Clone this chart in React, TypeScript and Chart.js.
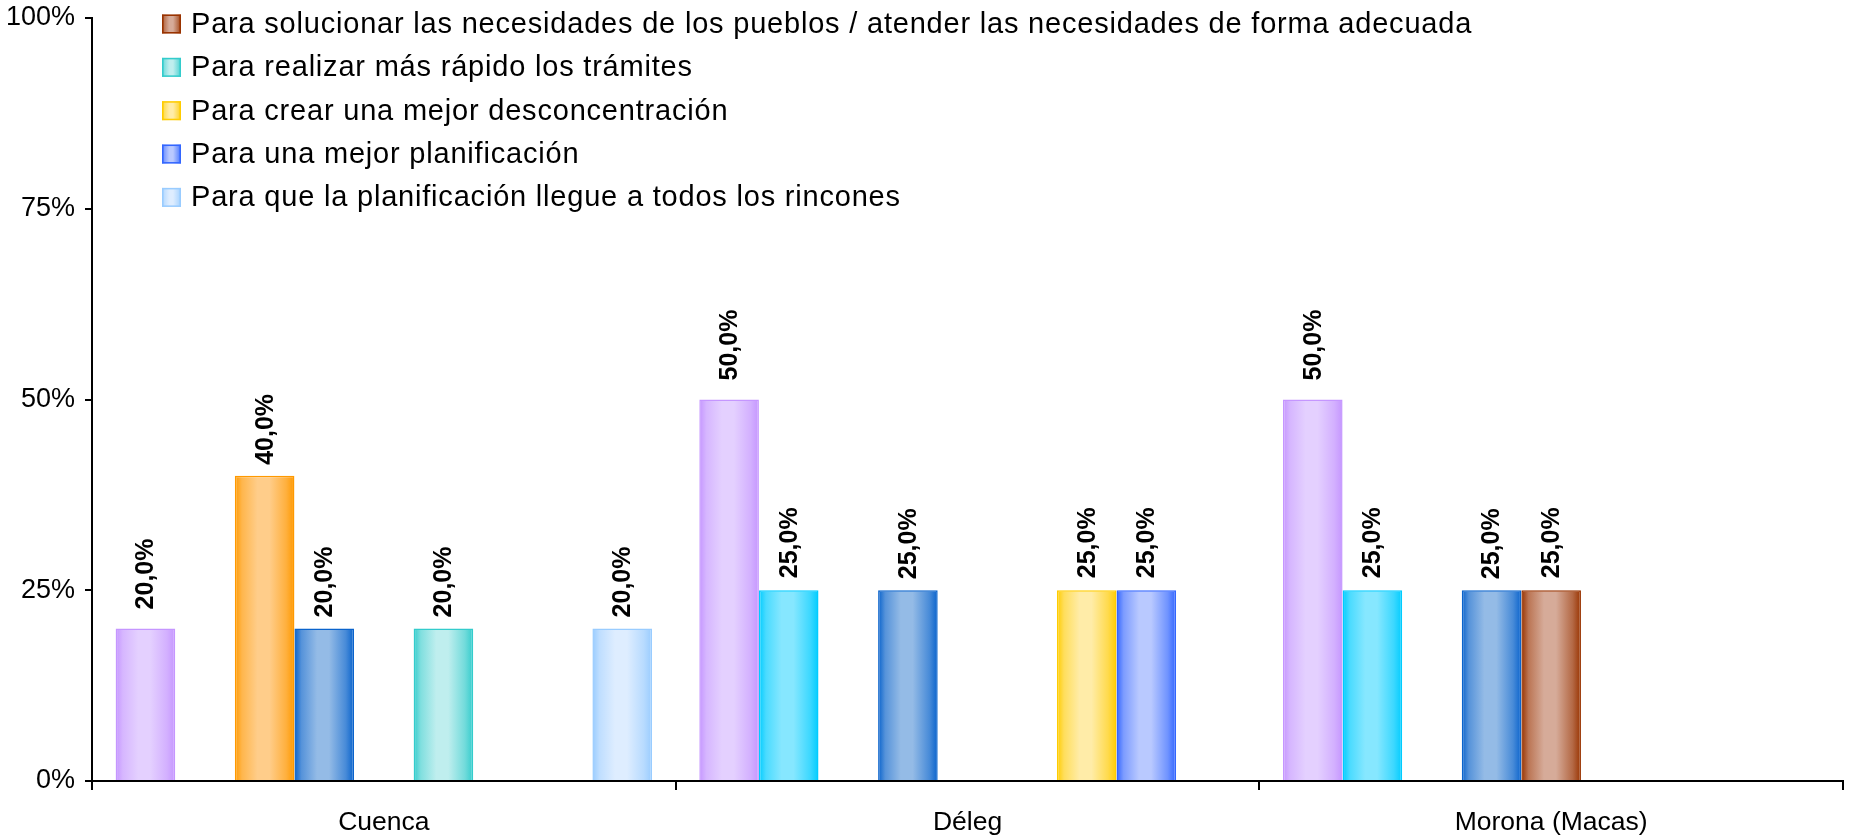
import React, { useEffect, useRef } from 'react';
import { Chart, registerables } from 'chart.js';

Chart.register(...registerables);

// ---------- data ----------
const categories = ['Cuenca', 'Déleg', 'Morona (Macas)'];

const seriesNames = [
  'Opción 1',
  'Opción 2',
  'Opción 3',
  'Opción 4',
  'Para solucionar las necesidades de los pueblos / atender las necesidades de forma adecuada',
  'Para realizar más rápido los trámites',
  'Para crear una mejor desconcentración',
  'Para una mejor planificación',
  'Para que la planificación llegue a todos los rincones',
];

const purpleValues = [20, 50, 50];
const cyanValues = [null, 25, 25];
const orangeValues = [40, null, null];
const steelBlueValues = [20, 25, 25];
const brownValues = [null, null, 25];
const tealValues = [20, null, null];
const yellowValues = [null, 25, null];
const blueValues = [null, 25, null];
const lightBlueValues = [20, null, null];

const seriesValues = [
  purpleValues,
  cyanValues,
  orangeValues,
  steelBlueValues,
  brownValues,
  tealValues,
  yellowValues,
  blueValues,
  lightBlueValues,
];

const yTicks = [0, 25, 50, 75, 100];
const legendSeries = [4, 5, 6, 7, 8];

// ---------- styles ----------
const FONT = '"Liberation Sans", Arial, Helvetica, sans-serif';
const palette: [string, string][] = [
  ['#c596ff', '#e4d0ff'],
  ['#00ccff', '#86e7ff'],
  ['#ff9900', '#ffcd8a'],
  ['#0a63cc', '#94bbe6'],
  ['#993300', '#d6ab99'],
  ['#33cccc', '#bfeeee'],
  ['#ffcc00', '#ffeca8'],
  ['#3366ff', '#b9c9ff'],
  ['#99ccff', '#deedff'],
];
const labelGap = [19, 12, 11, 11, 12, 11, 12, 12, 11];

function mix(a: string, b: string, t: number) {
  const pa = [1, 3, 5].map((i) => parseInt(a.slice(i, i + 2), 16));
  const pb = [1, 3, 5].map((i) => parseInt(b.slice(i, i + 2), 16));
  const c = pa.map((v, i) => Math.round(v + (pb[i] - v) * t));
  return `rgb(${c[0]},${c[1]},${c[2]})`;
}

function makeGrad(ctx: CanvasRenderingContext2D, l: number, r: number, pair: [string, string]) {
  const [edge, light] = pair;
  const g = ctx.createLinearGradient(l, 0, r, 0);
  g.addColorStop(0, edge);
  g.addColorStop(0.12, mix(edge, light, 0.55));
  g.addColorStop(0.38, light);
  g.addColorStop(0.58, light);
  g.addColorStop(0.86, mix(edge, light, 0.45));
  g.addColorStop(1, edge);
  return g;
}

const gradientPlugin = {
  id: 'cylGradient',
  beforeDatasetsDraw(chart: any) {
    const ctx = chart.ctx;
    chart.data.datasets.forEach((_ds: any, i: number) => {
      const meta = chart.getDatasetMeta(i);
      meta.data.forEach((el: any) => {
        const p = el.getProps(['x', 'width'], true);
        if (!Number.isFinite(p.x) || !Number.isFinite(p.width)) return;
        const l = p.x - p.width / 2;
        const g = makeGrad(ctx, l, l + p.width, palette[i]);
        el.options = Object.assign({}, el.options, { backgroundColor: g });
      });
    });
  },
};

const labelPlugin = {
  id: 'barLabels',
  afterDatasetsDraw(chart: any) {
    const ctx = chart.ctx;
    ctx.save();
    ctx.font = `bold 25px ${FONT}`;
    ctx.fillStyle = '#000';
    ctx.textAlign = 'left';
    ctx.textBaseline = 'middle';
    chart.data.datasets.forEach((ds: any, i: number) => {
      const meta = chart.getDatasetMeta(i);
      meta.data.forEach((el: any, j: number) => {
        const v = ds.data[j];
        if (v === null || v === undefined) return;
        const p = el.getProps(['x', 'y'], true);
        const txt = v.toFixed(1).replace('.', ',') + '%';
        ctx.save();
        ctx.translate(p.x + 1, p.y - labelGap[i]);
        ctx.rotate(-Math.PI / 2);
        ctx.fillText(txt, 0, 0);
        ctx.restore();
      });
    });
    ctx.restore();
  },
};

const legendPlugin = {
  id: 'customLegend',
  afterDraw(chart: any) {
    const ctx = chart.ctx;
    ctx.save();
    ctx.font = `29px ${FONT}`;
    (ctx as any).letterSpacing = '0.8px';
    ctx.fillStyle = '#000';
    ctx.textAlign = 'left';
    ctx.textBaseline = 'middle';
    legendSeries.forEach((si, k) => {
      const cy = 24 + 43.35 * k;
      const x = 162;
      const size = 19;
      ctx.fillStyle = makeGrad(ctx, x, x + size, palette[si]);
      ctx.fillRect(x, cy - size / 2, size, size);
      ctx.strokeStyle = palette[si][0];
      ctx.lineWidth = 1.5;
      ctx.strokeRect(x + 0.75, cy - size / 2 + 0.75, size - 1.5, size - 1.5);
      ctx.fillStyle = '#000';
      ctx.fillText(chart.data.datasets[si].label, 191, cy + 1);
    });
    ctx.restore();
  },
};

export default function App() {
  const ref = useRef<HTMLCanvasElement | null>(null);

  useEffect(() => {
    if (!ref.current) return;
    const chart = new Chart(ref.current, {
      type: 'bar',
      data: {
        labels: categories,
        datasets: seriesValues.map((vals, i) => ({
          label: seriesNames[i],
          data: vals as any,
          backgroundColor: palette[i][0],
          borderColor: palette[i][0],
          borderWidth: 1.5,
          categoryPercentage: 0.919,
          barPercentage: 1,
        })),
      },
      options: {
        animation: false,
        responsive: false,
        devicePixelRatio: 1,
        layout: { padding: { top: 18, right: 6, left: 0, bottom: 0 } },
        plugins: {
          legend: { display: false },
          tooltip: { enabled: false },
        },
        scales: {
          x: {
            grid: { offset: true, drawOnChartArea: false, tickLength: 9, color: '#000', lineWidth: 2 },
            border: { color: '#000', width: 2 },
            ticks: { padding: 17, color: '#000', maxRotation: 0, font: { family: FONT, size: 26.5 } },
            afterFit: (s: any) => {
              s.height = 55;
              s.paddingLeft = 0;
              s.paddingRight = 0;
            },
          },
          y: {
            min: 0,
            max: 100,
            afterBuildTicks: (s: any) => {
              s.ticks = yTicks.map((v) => ({ value: v }));
            },
            ticks: {
              padding: 10,
              color: '#000',
              font: { family: FONT, size: 27 },
              callback: (v: any) => v + '%',
            },
            grid: { drawOnChartArea: false, tickLength: 7, color: '#000', lineWidth: 2 },
            border: { color: '#000', width: 2 },
            afterFit: (s: any) => {
              s.width = 92;
              s.paddingTop = 0;
              s.paddingBottom = 0;
            },
          },
        },
      },
      plugins: [gradientPlugin, labelPlugin, legendPlugin],
    });
    return () => chart.destroy();
  }, []);

  return (
    <div style={{ position: 'fixed', left: 0, top: 0, width: 1849, height: 836, background: '#fff' }}>
      <canvas ref={ref} width={1849} height={836} style={{ display: 'block' }} />
    </div>
  );
}
